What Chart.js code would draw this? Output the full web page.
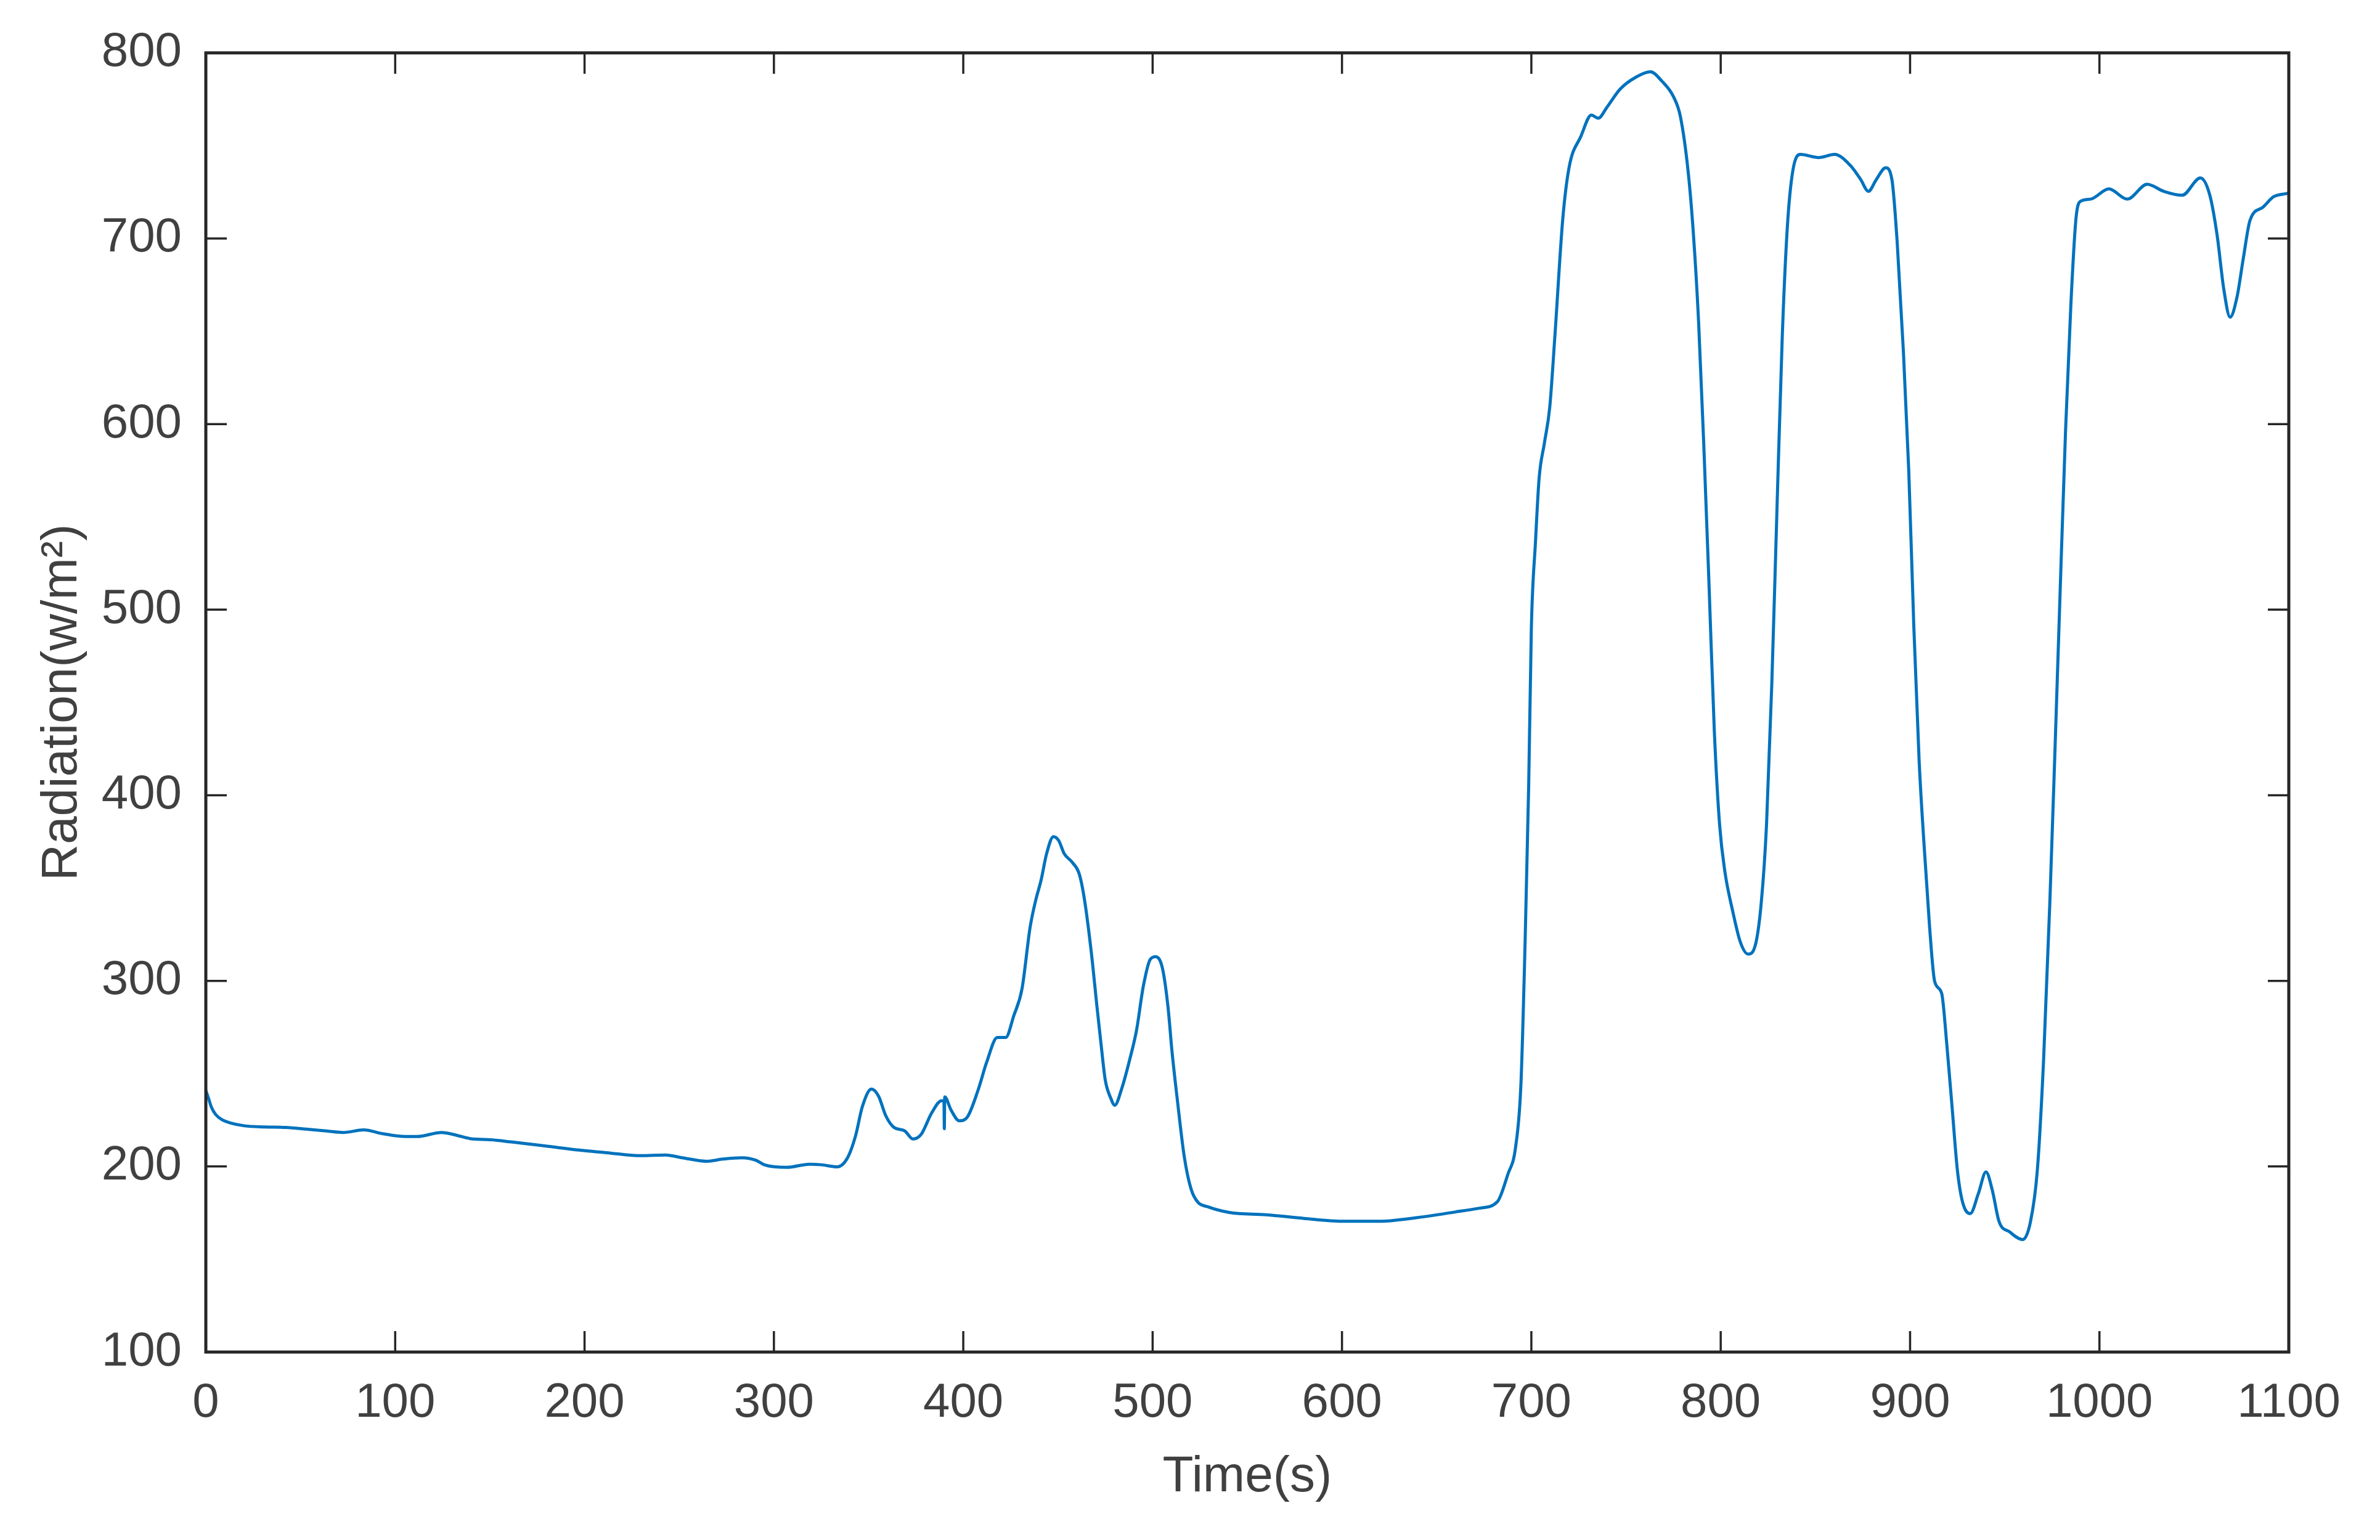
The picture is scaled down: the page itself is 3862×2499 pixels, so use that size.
<!DOCTYPE html>
<html>
<head>
<meta charset="utf-8">
<script src="https://cdn.jsdelivr.net/npm/chart.js@4.4.1/dist/chart.umd.min.js"></script>
<style>
html,body{margin:0;padding:0;background:#fff;}
canvas{display:block;}
</style>
</head>
<body>
<canvas id="c" width="3862" height="2499"></canvas>
<script>
const timeS = [0,1.4,3.0,5.2,8.5,12.8,20.4,31.2,42.1,53,63.8,72.5,83.3,93.1,101.8,111.5,124.5,132.1,139.7,150.6,161.4,167.4,181,197.2,213.5,229.8,242.8,251.5,264.5,273.2,283,290.6,294.9,306.8,318.7,325.2,333.4,338.8,343.1,346.7,351.5,355.3,359,363.3,369,373.4,377.7,383.4,388.5,389.8,390.0,390.2,393.5,397.9,402.2,408,412.3,418,422.4,426.7,431,435.3,438.2,441.1,444,447.6,450.4,453.3,457.6,461.3,464.1,467.7,470.6,472.8,475,477.8,480,483.6,487.9,491.5,495.1,498.7,501.6,505.2,508.1,510.2,513.1,516.7,520.3,523.9,529,540.5,560,580,600,620,640,660,672.4,682,687.6,691.7,694.5,696.7,698.6,700,702.2,704.1,706.9,709.7,712.4,716.6,719.9,726.2,731.7,735.3,740,746.9,755.2,762.9,769,775.1,778.7,782.8,785.6,788.3,791.1,793.9,796.6,799.4,802.2,806.3,810.4,814.5,818.1,821.4,824.2,827,829.7,832.5,835.2,838,842.1,851.8,860.1,868.4,873.9,878,882.2,887.1,890.4,893.2,896.5,899.3,902,904.8,907.5,910.3,913,916.7,919.4,922.2,925,927.7,931.8,936,940.1,943.4,947,952.5,959.5,963.6,967.2,970.5,973.8,976.6,979.3,982.1,984.9,987.6,989.8,995.3,1005,1014.7,1025.2,1034,1043.7,1053.3,1058.3,1062.1,1065.7,1069,1072.6,1076,1079.5,1086.4,1092,1098.8,1100];
const radiation = [240.9,236.8,231.8,228,225.2,223.5,221.9,221.3,221,220.1,219.1,218.3,219.7,217.7,216.4,216.1,218.3,216.9,215,214.4,213.2,212.5,210.8,208.8,207.2,205.8,206.2,204.7,202.8,204,204.7,203.3,200.9,199.5,201.2,200.9,199.8,204.5,216.4,232.2,241.7,237.8,227.5,221.1,219.2,214.8,217.2,229,235.4,235,220.3,237.5,230.5,224.6,226.7,241.7,256,269.5,269.5,281.3,295.6,328.9,343.2,354.3,368.5,377.7,375.6,368.5,363.8,357.4,343.2,314.6,286.1,265.5,246.5,237,233,241.7,257.6,273.4,297.2,311.5,313,306.7,286.1,262.3,235.4,205.3,187.8,180.7,178.3,175.2,174,172,170.5,170.5,172.5,175.5,177.5,180.9,195.8,210.6,244.5,320.8,405.5,490,536.9,570.8,589.8,608.9,647,710.6,738.1,755.1,766.5,764.8,770.8,780.5,786.9,789.8,784.7,776.3,765.7,736,702.1,655.5,587.7,511.4,435.2,384.3,358.9,337.7,320.8,314.4,318.6,342,384.3,460.6,553.8,647,706.4,736,745.3,743.6,745.3,739.4,731.8,725.4,731.8,738.1,731.8,697.9,638.6,575,490.3,418.2,371.6,329.2,299.6,293.2,265.7,231.8,197.9,180.9,174.6,185.2,197,187.3,170.3,164.8,160.6,170.3,197.9,257.2,342,426.7,511.4,596.2,664,710.6,719.9,721.2,726.7,721.2,729.2,725.4,723.3,732.6,723.3,702.1,672.5,657.6,668.2,689.4,709.7,716.9,722.5,724.2,724.5];
const xTickValues = [0,100,200,300,400,500,600,700,800,900,1000,1100];
const yTickValues = [100,200,300,400,500,600,700,800];
const xTitle = 'Time(s)';
const yTitle = 'Radiation(w/m²)';

const points = timeS.map((t, i) => ({x: t, y: radiation[i]}));

const frameColor = '#262626';
const textColor = '#404040';
const TICK_LEN = 34;

const framePlugin = {
  id: 'matlabFrame',
  afterDraw(chart) {
    const {ctx, chartArea: a, scales} = chart;
    ctx.save();
    ctx.strokeStyle = frameColor;
    ctx.lineWidth = 3.5;
    ctx.beginPath();
    xTickValues.forEach(v => {
      const px = scales.x.getPixelForValue(v);
      ctx.moveTo(px, a.bottom); ctx.lineTo(px, a.bottom - TICK_LEN);
      ctx.moveTo(px, a.top); ctx.lineTo(px, a.top + TICK_LEN);
    });
    yTickValues.forEach(v => {
      const py = scales.y.getPixelForValue(v);
      ctx.moveTo(a.left, py); ctx.lineTo(a.left + TICK_LEN, py);
      ctx.moveTo(a.right, py); ctx.lineTo(a.right - TICK_LEN, py);
    });
    ctx.stroke();
    ctx.lineWidth = 5;
    ctx.strokeRect(a.left, a.top, a.right - a.left, a.bottom - a.top);
    ctx.restore();
  }
};

new Chart(document.getElementById('c'), {
  type: 'line',
  data: {
    datasets: [{
      data: points,
      borderColor: '#0072BD',
      borderWidth: 5,
      pointRadius: 0,
      fill: false,
      cubicInterpolationMode: 'monotone'
    }]
  },
  options: {
    responsive: false,
    animation: false,
    devicePixelRatio: 1,
    parsing: false,
    layout: {padding: {left: 0, right: 148, top: 84, bottom: 0}},
    plugins: {legend: {display: false}, tooltip: {enabled: false}},
    scales: {
      x: {
        type: 'linear',
        min: 0, max: 1100,
        afterBuildTicks: s => { s.ticks = xTickValues.map(v => ({value: v})); },
        afterFit: s => { s.height = 305; },
        grid: {display: false, drawTicks: false},
        border: {display: false},
        ticks: {
          padding: 37,
          color: textColor,
          maxRotation: 0,
          autoSkip: false,
          font: {family: '"Liberation Sans", Arial, sans-serif', size: 78},
          callback: v => String(v)
        },
        title: {
          display: true,
          text: xTitle,
          color: textColor,
          padding: {top: 0, bottom: 52},
          font: {family: '"Liberation Sans", Arial, sans-serif', size: 82}
        }
      },
      y: {
        type: 'linear',
        min: 100, max: 800,
        afterBuildTicks: s => { s.ticks = yTickValues.map(v => ({value: v})); },
        afterFit: s => { s.width = 334; },
        grid: {display: false, drawTicks: false},
        border: {display: false},
        ticks: {
          padding: 39,
          color: textColor,
          autoSkip: false,
          font: {family: '"Liberation Sans", Arial, sans-serif', size: 78},
          callback: v => String(v)
        },
        title: {
          display: true,
          text: yTitle,
          color: textColor,
          padding: {top: 52, bottom: 0},
          font: {family: '"Liberation Sans", Arial, sans-serif', size: 82}
        }
      }
    }
  },
  plugins: [framePlugin]
});
</script>
</body>
</html>
